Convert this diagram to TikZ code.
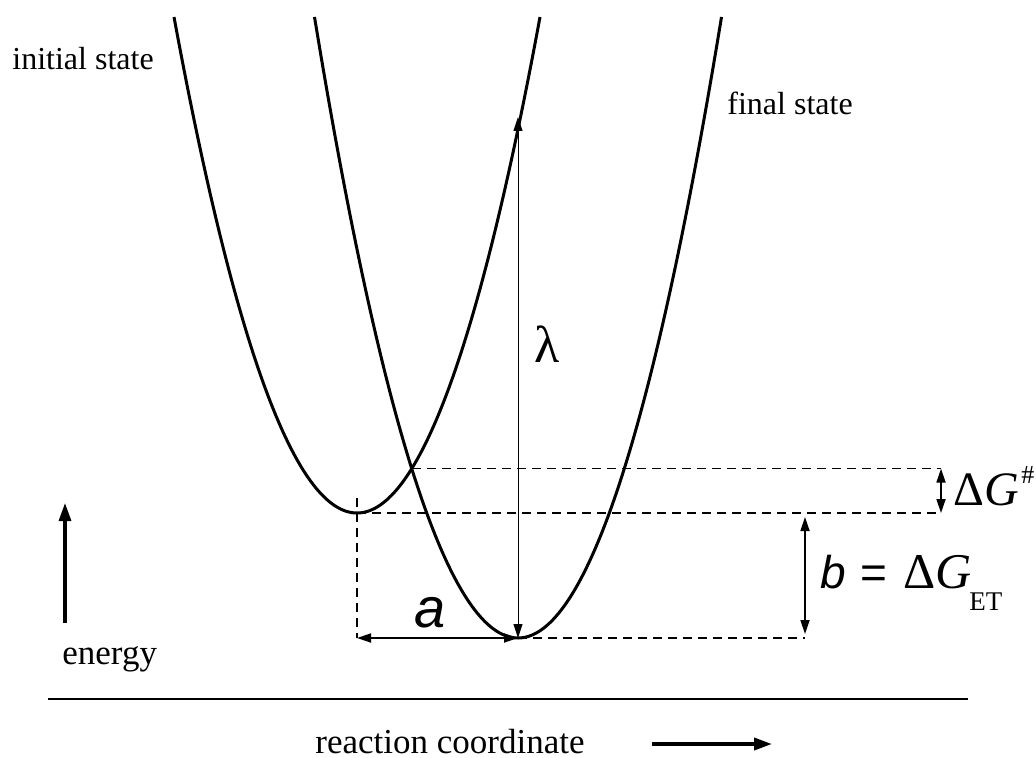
\documentclass[tikz,border=0pt]{standalone}
\usepackage{fontspec}
\setmainfont{Liberation Serif}
\newfontfamily\arialfont{Liberation Sans}
\usetikzlibrary{arrows.meta,positioning,calc,intersections}

\begin{document}
\begin{tikzpicture}[x=0.5pt,y=-0.5pt,
  >={Triangle[length=7pt,width=4.5pt]},
  curve/.style={line width=1.5pt,line join=round},
  guide/.style={dash pattern=on 4.5pt off 3pt,line width=0.75pt},
  dimarr/.style={<->,line width=0.9pt},
  bigarr/.style={-{Triangle[length=9pt,width=6pt]},line width=1.6pt},
  lbl/.style={inner sep=0pt,anchor=base west}
]
\useasboundingbox (0,0) rectangle (1036,758);
% the two potential curves
\draw[curve,name path=initial] plot[domain=-183:183,samples=81,smooth] ({357+\x},{513-496*(\x/183)^2});
\draw[curve,name path=final] plot[domain=-203.5:203.5,samples=81,smooth] ({518+\x},{638-621*(\x/203.5)^2});
\path[name intersections={of=initial and final,by=cross}];

\coordinate (minI) at (357,513);
\coordinate (minF) at (518,638);
\coordinate (lamTop) at (518,117);
\coordinate (dgX) at (941,0);
\coordinate (bX) at (805,0);

% dashed levels
\draw[guide] (cross) -- (cross -| dgX);
\draw[guide] (minI) -- (minI -| dgX);
\draw[guide] (minF) -- (minF -| bX);
\draw[guide] ($(minI)+(0,-15)$) -- (minI |- minF);

% dimensions
\draw[<->,line width=0.5pt] (minF) -- (lamTop);
\draw[dimarr] (minI |- minF) -- (minF);
\draw[dimarr] (cross -| dgX) -- (minI -| dgX);
\draw[dimarr] ($(minI -| bX)+(0,4)$) -- ($(minF -| bX)+(0,-4)$);

% axes
\coordinate (eBot) at (65,623);
\coordinate (eTop) at (65,503);
\draw[bigarr] (eBot) -- (eTop);
\coordinate (axL) at (48,699);
\coordinate (axR) at (968,699);
\draw[line width=1pt] (axL) -- (axR);
\coordinate (rcL) at (652,744);
\coordinate (rcR) at (772,744);
\draw[bigarr,line width=1.8pt] (rcL) -- (rcR);

% labels
\node[lbl,font=\fontsize{16}{19}\selectfont] (initLbl) at (12,70) {initial state};
\node[lbl,font=\fontsize{16}{19}\selectfont] (finLbl) at (727,115) {final state};
\node[lbl,font=\fontsize{17.5}{21}\selectfont] (enLbl) at (62,664) {energy};
\node[lbl,font=\fontsize{17.5}{21}\selectfont] (rcLbl) at (315,753) {reaction coordinate};
\node[lbl,font=\fontsize{26}{30}\selectfont] (lamLbl) at (534,363) {λ};
\node[lbl,font=\fontsize{28}{33}\selectfont\arialfont\itshape] (aLbl) at (414,627) {a};
\node[lbl,font=\fontsize{23}{28}\selectfont\arialfont\itshape] (bLbl) at (820,588) {b};
\node[lbl,font=\fontsize{23}{28}\selectfont\arialfont] (eqLbl) at (860,588) {=};
\node[lbl,font=\fontsize{25}{30}\selectfont] (dgetLbl) at (903,588) {Δ\textit{G}};
\node[lbl,font=\fontsize{13.5}{16}\selectfont] (etLbl) at (969,610) {ET};
\node[lbl,font=\fontsize{24}{29}\selectfont] (dgLbl) at (953,505) {Δ\textit{G}};
\node[lbl,font=\fontsize{13}{16}\selectfont] (hashLbl) at (1021,483) {\#};
\end{tikzpicture}
\end{document}
